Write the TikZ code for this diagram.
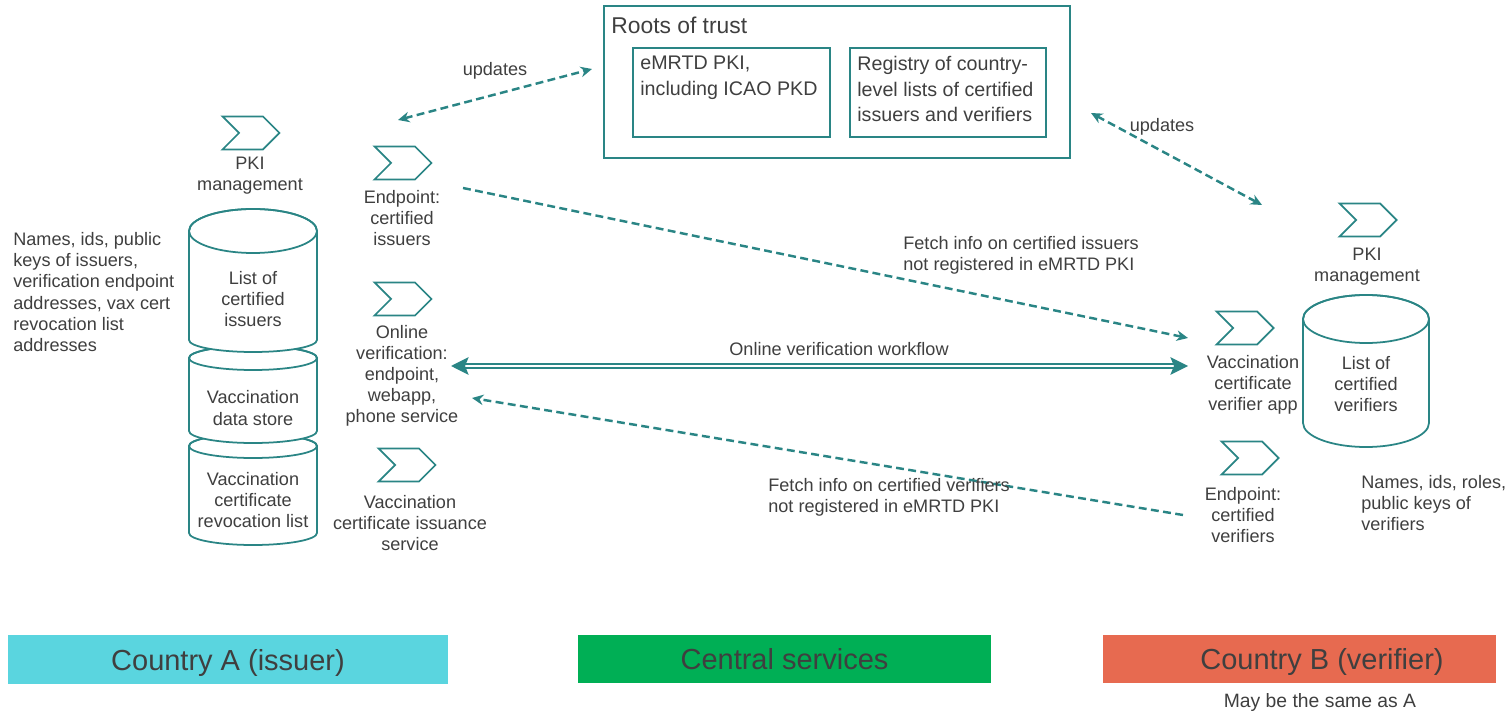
\documentclass[tikz,border=0pt]{standalone}
\usepackage{fontspec}
\setmainfont{Liberation Sans}
\usetikzlibrary{arrows.meta,shapes.symbols}

\definecolor{tealln}{HTML}{2A8585}
\definecolor{txtgray}{HTML}{3F3F3F}
\definecolor{barA}{HTML}{5AD5DF}
\definecolor{barC}{HTML}{00AF55}
\definecolor{barB}{HTML}{E76A50}

\tikzset{
  chev/.style={signal, signal to=east, signal from=west, draw=tealln, fill=white,
    line width=1pt, minimum width=1.14cm, minimum height=0.66cm, inner sep=0pt},
  txt/.style={text=txtgray, align=center, inner sep=0pt,
    font=\fontsize{10.3}{12}\selectfont},
  boxtxt/.style={txt, align=left, anchor=north west, font=\fontsize{11.2}{14.5}\selectfont},
  box/.style={draw=tealln, line width=1pt},
  fetch/.style={draw=tealln, line width=1.4pt, dash pattern=on 4.5pt off 2.5pt},
  tip/.style={-{Stealth[length=6.5pt,width=6pt]}},
  bar/.style={minimum height=0.98cm, inner sep=0pt, text=txtgray,
    text height=14pt, text depth=1.5pt, font=\fontsize{16.5}{18}\selectfont}
}

% cylinder: x centre, top y, bottom y, x radius, top y radius, bottom y radius
\newcommand\dbcan[6]{%
  \filldraw[box, fill=white] (#1-#4,#2) -- (#1-#4,#3)
    arc[start angle=180, end angle=0, x radius=#4, y radius=#6] -- (#1+#4,#2)
    arc[start angle=0, end angle=-180, x radius=#4, y radius=#5] -- cycle;
  \draw[box] (#1,#2) ellipse[x radius=#4, y radius=#5];}

\begin{document}
\begin{tikzpicture}[x=0.02cm, y=-0.02cm]
  \useasboundingbox (0,0) rectangle (1510,715);

  % roots of trust
  \node[box, minimum width=9.32cm, minimum height=3.04cm] (roots) at (837,82) {};
  \node[txt, anchor=west, font=\fontsize{13}{15}\selectfont] (rootsT) at (611,25) {Roots of trust};
  \node[box, minimum width=3.94cm, minimum height=1.78cm] (emrtd) at (731.5,92.5) {};
  \node[box, minimum width=3.92cm, minimum height=1.78cm] (regis) at (948,92.5) {};
  \node[boxtxt] (emrtdT) at (640,56) {eMRTD PKI,\\including ICAO PKD};
  \node[boxtxt] (regisT) at (857,56) {Registry of country-\\level lists of certified\\issuers and verifiers};

  % country A stores
  \dbcan{253}{446}{533}{64}{12}{12}
  \dbcan{253}{358}{431}{64}{12}{12}
  \dbcan{253}{231}{340}{64}{22}{12}
  \node[txt] (lstIss) at (253,299) {List of\\certified\\issuers};
  \node[txt] (vaxStore) at (253,408) {Vaccination\\data store};
  \node[txt] (revList) at (253,500) {Vaccination\\certificate\\revocation list};
  \node[txt, align=left, anchor=west] (issInfo) at (13,292)
    {Names, ids, public\\keys of issuers,\\verification endpoint\\addresses, vax cert\\revocation list\\addresses};

  % country A services
  \node[chev] (pkiA) at (251,133) {};
  \node[txt] (pkiAT) at (250,176) {PKI\\management};
  \node[chev] (epIss) at (403,163) {};
  \node[txt] (epIssT) at (402,218) {Endpoint:\\certified\\issuers};
  \node[chev] (onl) at (403,299) {};
  \node[txt] (onlT) at (402,376) {Online\\verification:\\endpoint,\\webapp,\\phone service};
  \node[chev] (issu) at (407,465) {};
  \node[txt] (issuT) at (410,523) {Vaccination\\certificate issuance\\service};

  % country B
  \dbcan{1366}{319}{423}{63}{24}{24}
  \node[txt] (lstVer) at (1366,384) {List of\\certified\\verifiers};
  \node[chev] (pkiB) at (1368,220) {};
  \node[txt] (pkiBT) at (1367,267) {PKI\\management};
  \node[chev] (app) at (1245,328) {};
  \node[txt] (appT) at (1253,385) {Vaccination\\certificate\\verifier app};
  \node[chev] (epVer) at (1250,458) {};
  \node[txt] (epVerT) at (1243,515) {Endpoint:\\certified\\verifiers};
  \node[txt, align=left, anchor=west] (verInfo) at (1361,503)
    {Names, ids, roles,\\public keys of\\verifiers};

  % connectors
  \coordinate (updA1) at (398,120);
  \coordinate (updA2) at (592,69);
  \coordinate (updB1) at (1091,113);
  \coordinate (updB2) at (1262,205);
  \coordinate (issS) at (463,188);
  \coordinate (issE) at (1188,338);
  \coordinate (owfA) at (451,366);
  \coordinate (owfB) at (1188,366);
  \coordinate (verS) at (1183,515);
  \coordinate (verE) at (472,398);

  \draw[fetch, {Stealth[length=6.5pt,width=6pt]}-{Stealth[length=6.5pt,width=6pt]}] (updA1) -- (updA2);
  \draw[fetch, {Stealth[length=6.5pt,width=6pt]}-{Stealth[length=6.5pt,width=6pt]}] (updB1) -- (updB2);
  \draw[fetch, tip] (issS) -- (issE);
  \draw[fetch, tip] (verS) -- (verE);
  \draw[tealln, line width=1.1pt, double distance=1.2pt,
    {Stealth[length=10pt,width=10pt,inset=2pt]}-{Stealth[length=10pt,width=10pt,inset=2pt]}] (owfA) -- (owfB);

  \node[txt] (updAT) at (495,71) {updates};
  \node[txt] (updBT) at (1162,127) {updates};
  \node[txt, align=left, anchor=west] (issF) at (903,255)
    {Fetch info on certified issuers\\not registered in eMRTD PKI};
  \node[txt, align=left, anchor=west] (verF) at (768,497)
    {Fetch info on certified verifiers\\not registered in eMRTD PKI};
  \node[txt] (owfT) at (839,349) {Online verification workflow};

  % bottom bars
  \node[bar, fill=barA, minimum width=8.8cm] (ctyA) at (228,659.5) {Country A (issuer)};
  \node[bar, fill=barC, minimum width=8.26cm] (central) at (784.5,659) {Central services};
  \node[bar, fill=barB, minimum width=7.86cm] (ctyB) at (1299.5,659) {};
  \node[bar] (ctyBT) at (1322,659) {Country B (verifier)};
  \node[txt, font=\fontsize{11}{13}\selectfont] (same) at (1320,703) {May be the same as A};
\end{tikzpicture}
\end{document}
